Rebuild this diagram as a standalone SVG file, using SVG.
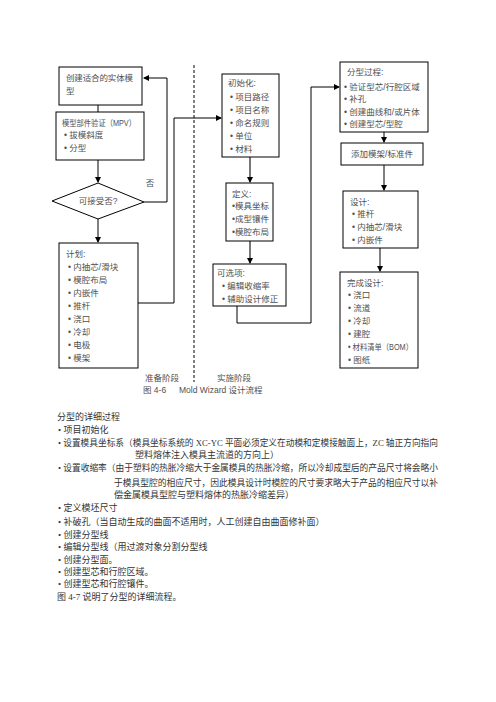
<svg xmlns="http://www.w3.org/2000/svg" width="496" height="702" viewBox="0 0 496 702">
<defs>
<marker id="ah" markerWidth="6" markerHeight="6" refX="5" refY="3" orient="auto" markerUnits="userSpaceOnUse"><path d="M0,0 L6,3 L0,6 z" fill="#000"/></marker>
</defs>
<style>
.bx{fill:#fff;stroke:#000;stroke-width:1}
.t{font-family:"Liberation Sans","Noto Sans CJK SC",sans-serif;font-size:8.5px;fill:#505050}
.b{font-family:"Liberation Serif","Noto Sans CJK SC",serif;font-size:9px;fill:#333}
.c{fill:none;stroke:#000;stroke-width:1}
.g{fill:none;stroke:#777;stroke-width:2}
</style>
<rect width="496" height="702" fill="#fff"/>
<g id="connectors">
<path class="c" d="M144,202 H167 V78 H144" marker-end="url(#ah)"/>
<path class="c" d="M98,105 V112"/>
<path class="c" d="M98,160 V182" marker-end="url(#ah)"/>
<path class="c" d="M98,219 V242" marker-end="url(#ah)"/>
<path class="c" d="M138,303 H174 V118 H221" marker-end="url(#ah)"/>
<path class="g" d="M250,157 V182" marker-end="url(#ah)"/>
<path class="g" d="M250,241 V263" marker-end="url(#ah)"/>
<path class="c" d="M237,306 V323 H311 V87 H339" marker-end="url(#ah)"/>
<path class="c" d="M384,132 V142" marker-end="url(#ah)"/>
<path class="c" d="M384,165 V190" marker-end="url(#ah)"/>
<path class="c" d="M380,248 V271" marker-end="url(#ah)"/>
<path d="M194,65 V382" fill="none" stroke="#000" stroke-width="1" stroke-dasharray="3,2"/>
</g>
<g id="n1"><rect class="bx" x="59" y="67" width="83" height="38"/>
<text class="t" x="66" y="81" textLength="67" lengthAdjust="spacing">创建适合的实体模</text><text class="t" x="66" y="94">型</text></g>
<g id="n2"><rect class="bx" x="56" y="112" width="88" height="48"/>
<text class="t" x="62" y="126" textLength="74" lengthAdjust="spacingAndGlyphs">模型部件验证（MPV）</text><text class="t" x="64" y="138">• 拔模斜度</text><text class="t" x="64" y="151">• 分型</text></g>
<g id="n3"><polygon class="bx" points="52,201 98,183 144,202 98,219"/>
<text class="t" x="98" y="204" text-anchor="middle">可接受否?</text></g>
<text class="t" x="150" y="186" text-anchor="middle">否</text>
<g id="n4"><rect class="bx" x="59" y="243" width="79" height="125"/>
<text class="t" x="66" y="257">计划:</text>
<text class="t" x="68" y="270">• 内抽芯/滑块</text>
<text class="t" x="68" y="283">• 模腔布局</text>
<text class="t" x="68" y="296">• 内嵌件</text>
<text class="t" x="68" y="309">• 推杆</text>
<text class="t" x="68" y="322">• 浇口</text>
<text class="t" x="68" y="335">• 冷却</text>
<text class="t" x="68" y="348">• 电极</text>
<text class="t" x="68" y="361">• 模架</text></g>
<g id="n5"><rect class="bx" x="222" y="74" width="57" height="83"/>
<text class="t" x="228" y="86">初始化:</text>
<text class="t" x="230" y="100">• 项目路径</text>
<text class="t" x="230" y="113">• 项目名称</text>
<text class="t" x="230" y="126">• 命名规则</text>
<text class="t" x="230" y="139">• 单位</text>
<text class="t" x="230" y="152">• 材料</text></g>
<g id="n6"><rect class="bx" x="226" y="183" width="47" height="58"/>
<text class="t" x="232" y="197">定义:</text>
<text class="t" x="232" y="209">•模具坐标</text>
<text class="t" x="232" y="222">•成型镶件</text>
<text class="t" x="232" y="235">•模腔布局</text></g>
<g id="n7"><rect class="bx" x="213" y="264" width="73" height="42"/>
<text class="t" x="217" y="276">可选项:</text>
<text class="t" x="222" y="289">• 编辑收缩率</text>
<text class="t" x="222" y="302">• 辅助设计修正</text></g>
<g id="n8"><rect class="bx" x="340" y="62" width="88" height="70"/>
<text class="t" x="347" y="75">分型过程:</text>
<text class="t" x="344" y="90">• 验证型芯/行腔区域</text>
<text class="t" x="344" y="102">• 补孔</text>
<text class="t" x="344" y="115">• 创建曲线和/或片体</text>
<text class="t" x="344" y="127">• 创建型芯/型腔</text></g>
<g id="n9"><rect class="bx" x="341" y="143" width="82" height="22"/>
<text class="t" x="382" y="157" text-anchor="middle">添加模架/标准件</text></g>
<g id="n10"><rect class="bx" x="343" y="191" width="75" height="57"/>
<text class="t" x="350" y="205">设计:</text>
<text class="t" x="352" y="217">• 推杆</text>
<text class="t" x="352" y="230">• 内抽芯/滑块</text>
<text class="t" x="352" y="243">• 内嵌件</text></g>
<g id="n11"><rect class="bx" x="340" y="272" width="78" height="96"/>
<text class="t" x="347" y="286">完成设计:</text>
<text class="t" x="348" y="298">• 浇口</text>
<text class="t" x="348" y="311">• 流道</text>
<text class="t" x="348" y="324">• 冷却</text>
<text class="t" x="348" y="337">• 建腔</text>
<text class="t" x="348" y="350" textLength="65" lengthAdjust="spacingAndGlyphs">• 材料清单（BOM）</text>
<text class="t" x="348" y="363">• 图纸</text></g>
<g id="captions">
<text class="t" x="145" y="381">准备阶段</text>
<text class="t" x="217" y="381">实施阶段</text>
<text class="t" x="143" y="393">图 4-6</text>
<text class="t" x="179" y="393">Mold Wizard 设计流程</text>
</g>
<g id="body">
<text class="b" x="57" y="420">分型的详细过程</text>
<text class="b" x="58" y="433">• 项目初始化</text>
<text class="b" x="58" y="446" textLength="380" lengthAdjust="spacingAndGlyphs">• 设置模具坐标系（模具坐标系统的 XC-YC 平面必须定义在动模和定模接触面上，ZC 轴正方向指向</text>
<text class="b" x="135" y="458">塑料熔体注入模具主流道的方向上）</text>
<text class="b" x="58" y="471" textLength="380" lengthAdjust="spacingAndGlyphs">• 设置收缩率（由于塑料的热胀冷缩大于金属模具的热胀冷缩，所以冷却成型后的产品尺寸将会略小</text>
<text class="b" x="114" y="486" textLength="324" lengthAdjust="spacingAndGlyphs">于模具型腔的相应尺寸，因此模具设计时模腔的尺寸要求略大于产品的相应尺寸以补</text>
<text class="b" x="114" y="498">偿金属模具型腔与塑料熔体的热胀冷缩差异）</text>
<text class="b" x="58" y="511">• 定义模坯尺寸</text>
<text class="b" x="58" y="525">• 补破孔（当自动生成的曲面不适用时，人工创建自由曲面修补面）</text>
<text class="b" x="58" y="538">• 创建分型线</text>
<text class="b" x="58" y="550">• 编辑分型线（用过渡对象分割分型线</text>
<text class="b" x="58" y="563">• 创建分型面。</text>
<text class="b" x="58" y="575">• 创建型芯和行腔区域。</text>
<text class="b" x="58" y="587">• 创建型芯和行腔镶件。</text>
<text class="b" x="57" y="600">图 4-7 说明了分型的详细流程。</text>
</g>
</svg>
